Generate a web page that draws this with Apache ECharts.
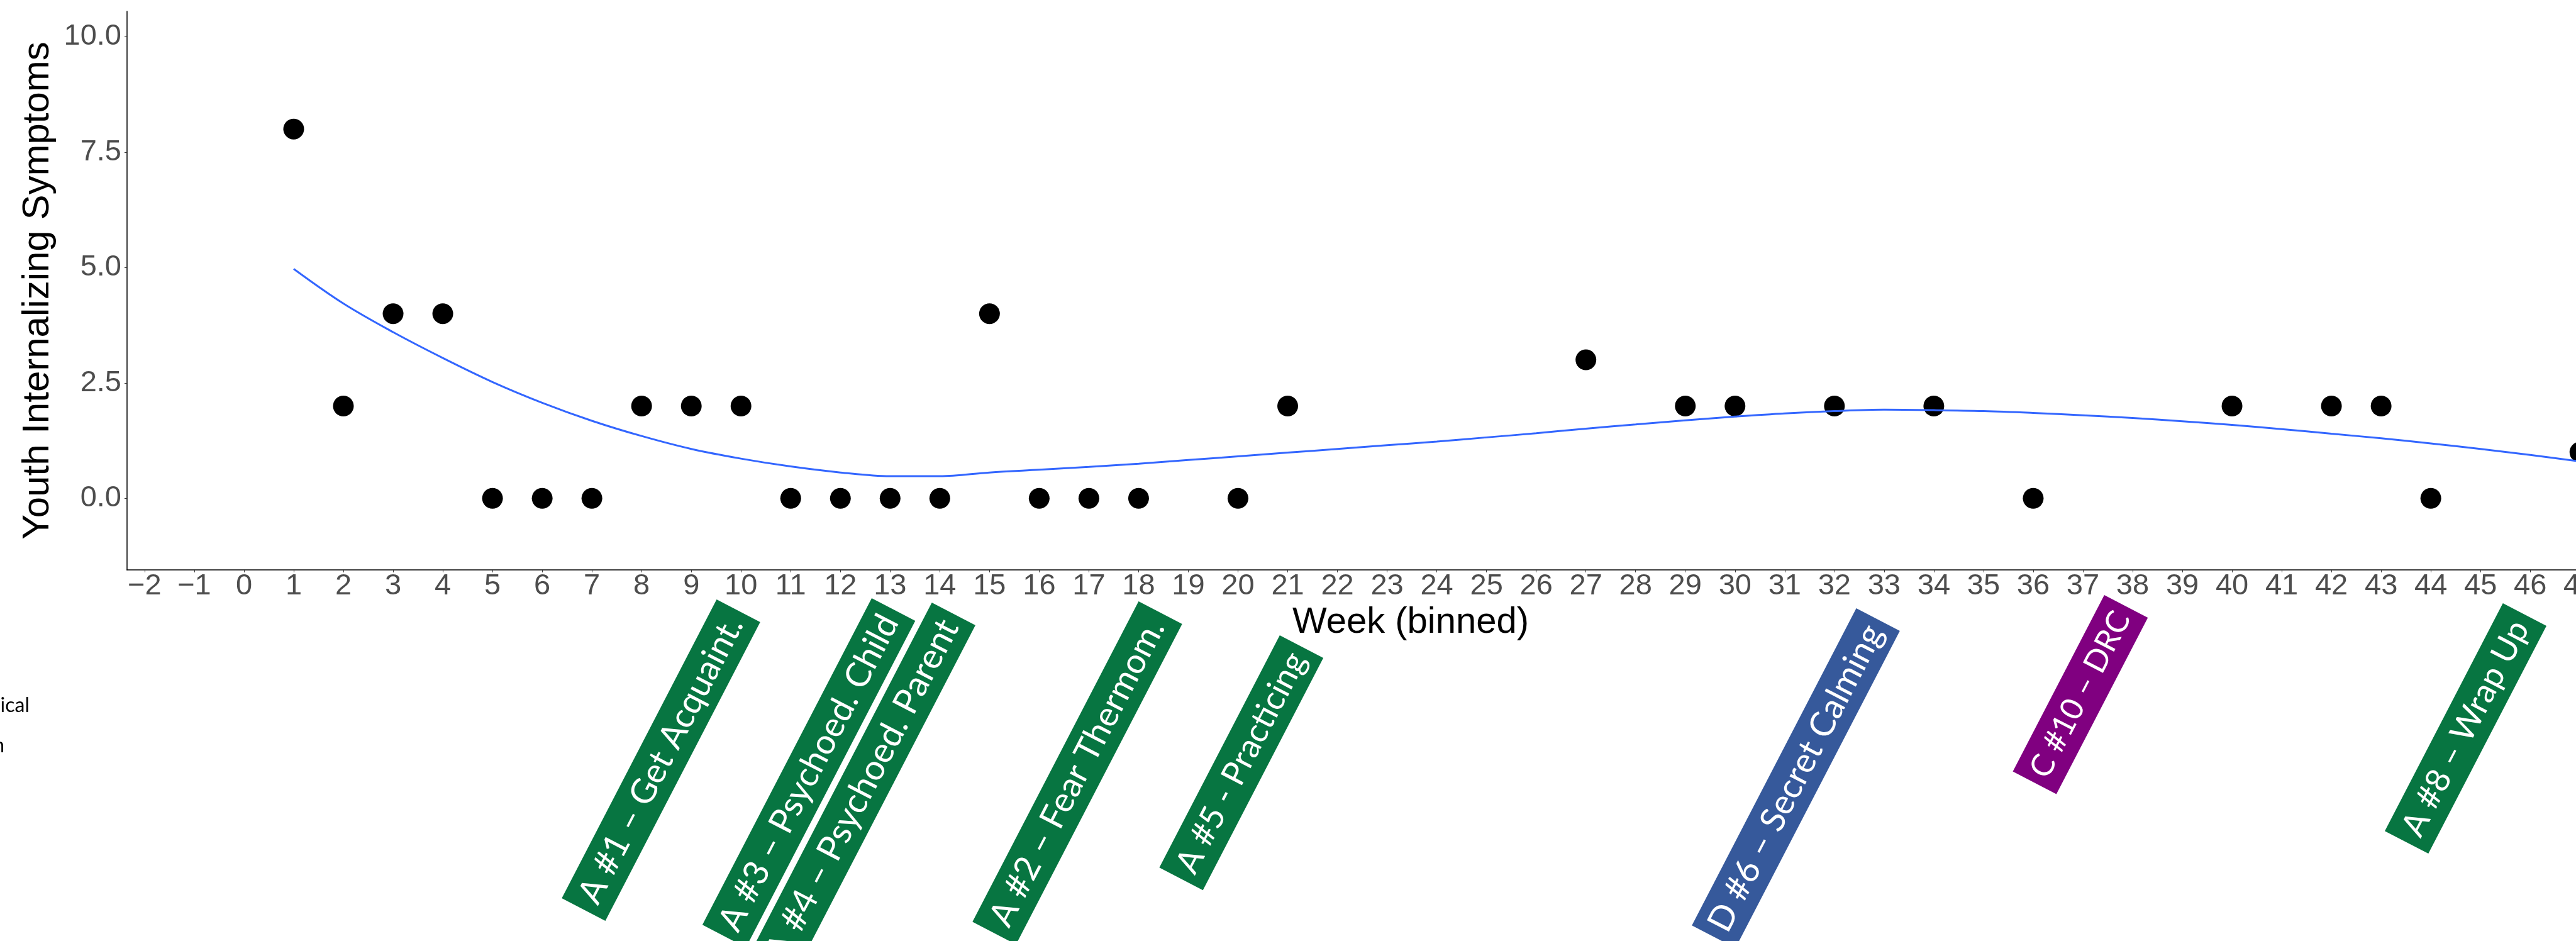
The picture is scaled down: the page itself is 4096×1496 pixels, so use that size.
<!DOCTYPE html>
<html>
<head>
<meta charset="utf-8">
<script src="https://cdn.jsdelivr.net/npm/echarts@6/dist/echarts.min.js"></script>
<style>
  html, body { margin: 0; padding: 0; background: #ffffff; overflow: hidden; }
  #chart { width: 4096px; height: 1496px; }
</style>
</head>
<body>
<div id="chart"></div>
<script>
// Weekly youth internalizing symptom scores
const weeks = [1, 2, 3, 4, 5, 6, 7, 8, 9, 10, 11, 12, 13, 14, 15, 16, 17, 18, 20, 21,
               27, 29, 30, 32, 34, 36, 40, 42, 43, 44, 47];
const symptoms = [8, 2, 4, 4, 0, 0, 0, 2, 2, 2, 0, 0, 0, 0, 4, 0, 0, 0, 0, 2,
                  3, 2, 2, 2, 2, 0, 2, 2, 2, 0, 1];

// Smoothed trend (loess) across weeks
const trendWeeks = [1, 2, 3, 4, 5, 6, 7, 8, 9, 10, 11, 12, 13, 14, 15, 16, 17, 18, 19, 20,
                    21, 22, 23, 24, 25, 26, 27, 28, 29, 30, 31, 32, 33, 34, 35, 36, 37, 38, 39, 40,
                    41, 42, 43, 44, 45, 46, 47];
const trendValues = [4.97, 4.22, 3.60, 3.04, 2.52, 2.07, 1.68, 1.35, 1.07, 0.86,
                     0.69, 0.56, 0.48, 0.48, 0.56, 0.62, 0.68, 0.75, 0.83, 0.91,
                     0.99, 1.07, 1.15, 1.23, 1.32, 1.41, 1.51, 1.60, 1.69, 1.77,
                     1.84, 1.89, 1.92, 1.91, 1.89, 1.85, 1.80, 1.74, 1.67, 1.59,
                     1.50, 1.40, 1.30, 1.19, 1.07, 0.94, 0.80];

// Axis ticks
const xTicks = [];
for (let w = -2; w <= 49; w++) xTicks.push(w);
const yTicks = [0, 2.5, 5, 7.5, 10];

// Session annotations
const sessionLabels = ['A #1 – Get Acquaint.', 'A #3 – Psychoed. Child', 'A #4 – Psychoed. Parent',
                       'A #2 – Fear Thermom.', 'A #5 - Practicing', 'D #6 – Secret Calming',
                       'C #10 – DRC', 'A #8 – Wrap Up'];
const sessionModules = ['A', 'A', 'A', 'A', 'A', 'D', 'C', 'A'];

// Legend fragments at the left margin
const sideNotes = ['Clinical', 'Session'];

// ---- styling / layout (kept apart from the data) ----
const moduleColors = { A: '#077541', C: '#800080', D: '#36599B' };
// anchor: week on the x axis where the upper corner of each tag sits,
// drop: pixels below the x axis, length: tag length in pixels
const tagLayout = [
  { anchor: 9.51,  drop: 47,  length: 535 },
  { anchor: 12.63, drop: 45,  length: 585 },
  { anchor: 13.84, drop: 52,  length: 630 },
  { anchor: 18.00, drop: 50,  length: 574 },
  { anchor: 20.84, drop: 104, length: 416 },
  { anchor: 32.44, drop: 61,  length: 568 },
  { anchor: 37.43, drop: 40,  length: 316 },
  { anchor: 45.45, drop: 53,  length: 408 }
];
const tagWidth = 78;
const tagAngle = 62.6 * Math.PI / 180;
const tagFont = 'Lato';
const tagFontSize = 57;
const tagPadding = 12;
const sideNoteLayout = [{ x: 47, y: 1138 }, { x: 7, y: 1202 }];

const X_MIN = -2.353, X_MAX = 49.3;
const Y_MIN = -1.55, Y_MAX = 10.55;
const GRID = { left: 202, top: 18, width: 4082, height: 888 };

const fmtX = v => (v < 0 ? '\u2212' + Math.abs(v) : String(v));
const fmtY = v => v.toFixed(1);

// shrink a tag's font just enough for its text to stay inside the tag
const measureCtx = document.createElement('canvas').getContext('2d');
function fitFontSize(text, room) {
  measureCtx.font = tagFontSize + 'px ' + tagFont;
  const w = measureCtx.measureText(text).width;
  return w > room ? Math.floor(tagFontSize * room / w) : tagFontSize;
}

const chart = echarts.init(document.getElementById('chart'), null, { renderer: 'canvas' });

const option = {
  backgroundColor: '#ffffff',
  animation: false,
  grid: Object.assign({ containLabel: false, outerBoundsMode: 'none' }, GRID),
  xAxis: {
    type: 'value',
    min: X_MIN,
    max: X_MAX,
    name: 'Week (binned)',
    nameLocation: 'middle',
    nameGap: 48,
    nameTextStyle: { fontFamily: 'Liberation Sans', fontSize: 58, color: '#000000' },
    axisLine: { show: true, onZero: false, lineStyle: { color: '#000000', width: 1.7 } },
    axisTick: { show: true, customValues: xTicks, length: 4, lineStyle: { color: '#333333', width: 1 } },
    axisLabel: {
      customValues: xTicks,
      formatter: fmtX,
      margin: 3,
      fontFamily: 'Liberation Sans',
      fontSize: 47,
      color: '#4D4D4D',
      hideOverlap: false
    },
    splitLine: { show: false }
  },
  yAxis: {
    type: 'value',
    min: Y_MIN,
    max: Y_MAX,
    name: 'Youth Internalizing Symptoms',
    nameLocation: 'middle',
    nameGap: 104,
    nameRotate: 90,
    nameTextStyle: { fontFamily: 'Liberation Sans', fontSize: 60, color: '#000000' },
    axisLine: { show: true, onZero: false, lineStyle: { color: '#000000', width: 1.5 } },
    axisTick: { show: true, customValues: yTicks, length: 4, lineStyle: { color: '#333333', width: 1 } },
    axisLabel: {
      customValues: yTicks,
      formatter: fmtY,
      margin: 9,
      fontFamily: 'Liberation Sans',
      fontSize: 47,
      color: '#4D4D4D',
      hideOverlap: false
    },
    splitLine: { show: false }
  },
  series: [
    {
      type: 'scatter',
      data: weeks.map((w, i) => [w, symptoms[i]]),
      symbol: 'circle',
      symbolSize: 33,
      itemStyle: { color: '#000000', opacity: 1 },
      z: 2,
      silent: true
    },
    {
      type: 'line',
      data: trendWeeks.map((w, i) => [w, trendValues[i]]),
      showSymbol: false,
      smooth: 0.35,
      lineStyle: { color: '#3366FF', width: 3 },
      z: 3,
      silent: true
    }
  ]
};

chart.setOption(option);

// Rotated session tags hung below the x axis
const axisBottom = GRID.top + GRID.height;
const graphics = [];
tagLayout.forEach((t, i) => {
  const px = chart.convertToPixel({ xAxisIndex: 0 }, t.anchor);
  graphics.push({
    type: 'group',
    x: px,
    y: axisBottom + t.drop,
    rotation: tagAngle,
    silent: true,
    children: [
      {
        type: 'rect',
        shape: { x: -t.length, y: 0, width: t.length, height: tagWidth },
        style: { fill: moduleColors[sessionModules[i]] }
      },
      {
        type: 'text',
        x: -t.length / 2,
        y: tagWidth / 2,
        style: {
          text: sessionLabels[i],
          fill: '#ffffff',
          fontFamily: tagFont,
          fontSize: fitFontSize(sessionLabels[i], t.length - 2 * tagPadding),
          align: 'center',
          verticalAlign: 'middle'
        }
      }
    ]
  });
});
sideNotes.forEach((txt, i) => {
  graphics.push({
    type: 'text',
    x: sideNoteLayout[i].x,
    y: sideNoteLayout[i].y,
    silent: true,
    style: {
      text: txt,
      fill: '#000000',
      fontFamily: 'Lato',
      fontSize: 32,
      align: 'right',
      verticalAlign: 'bottom'
    }
  });
});
chart.setOption({ graphic: graphics });
</script>
</body>
</html>
